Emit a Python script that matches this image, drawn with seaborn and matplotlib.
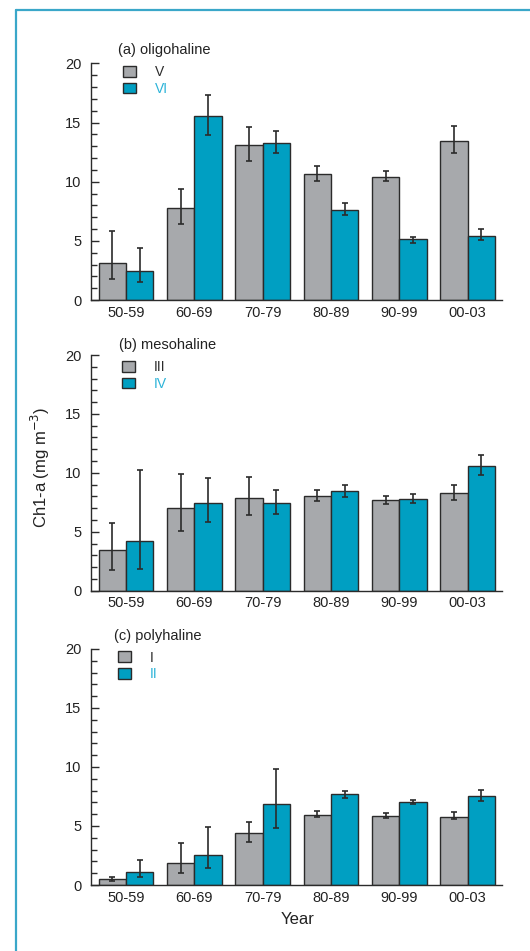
import matplotlib
matplotlib.use("Agg")
import matplotlib.pyplot as plt
from matplotlib.lines import Line2D
from matplotlib.patches import Patch
from matplotlib.ticker import MultipleLocator
import numpy as np
import pandas as pd
import seaborn as sns

years = ["50-59", "60-69", "70-79", "80-89", "90-99", "00-03"]

# (a) oligohaline
olig_names = ["V", "VI"]
olig_v = [3.15, 7.75, 13.13, 10.62, 10.42, 13.46]
olig_v_lo = [1.80, 6.45, 11.72, 10.03, 10.03, 12.39]
olig_v_hi = [5.80, 9.41, 14.59, 11.32, 10.93, 14.73]
olig_vi = [2.48, 15.55, 13.30, 7.63, 5.13, 5.44]
olig_vi_lo = [1.49, 13.97, 12.39, 7.15, 4.85, 5.07]
olig_vi_hi = [4.37, 17.35, 14.31, 8.17, 5.35, 5.97]

# (b) mesohaline
meso_names = ["III", "IV"]
meso_iii = [3.45, 7.04, 7.89, 8.03, 7.69, 8.32]
meso_iii_lo = [1.75, 5.04, 6.39, 7.58, 7.38, 7.69]
meso_iii_hi = [5.77, 9.93, 9.67, 8.57, 8.06, 8.94]
meso_iv = [4.24, 7.47, 7.47, 8.43, 7.81, 10.61]
meso_iv_lo = [1.87, 5.83, 6.51, 7.95, 7.47, 9.82]
meso_iv_hi = [10.27, 9.53, 8.57, 8.97, 8.23, 11.51]

# (c) polyhaline
poly_names = ["I", "II"]
poly_i = [0.51, 1.89, 4.38, 5.93, 5.85, 5.79]
poly_i_lo = [0.31, 0.99, 3.62, 5.76, 5.65, 5.56]
poly_i_hi = [0.71, 3.59, 5.37, 6.27, 6.07, 6.16]
poly_ii = [1.07, 2.57, 6.86, 7.68, 7.03, 7.51]
poly_ii_lo = [0.71, 1.41, 4.86, 7.34, 6.84, 7.09]
poly_ii_hi = [2.09, 4.89, 9.83, 7.99, 7.23, 8.05]

panels = [
    ("(a) oligohaline", olig_names, [olig_v, olig_vi], [olig_v_lo, olig_vi_lo], [olig_v_hi, olig_vi_hi]),
    ("(b) mesohaline", meso_names, [meso_iii, meso_iv], [meso_iii_lo, meso_iv_lo], [meso_iii_hi, meso_iv_hi]),
    ("(c) polyhaline", poly_names, [poly_i, poly_ii], [poly_i_lo, poly_ii_lo], [poly_i_hi, poly_ii_hi]),
]

GRAY = "#a7a9ac"
TEAL = "#009fc2"
DARK = "#2b2b2b"
LABEL_TEAL = "#2bb3d8"

sns.set_theme(style="white")
plt.rcParams["font.family"] = ["Liberation Sans", "DejaVu Sans"]

fig = plt.figure(figsize=(5.30, 9.51), dpi=100)

# axes boxes in figure fraction: left, bottom, width, height
boxes = [
    [0.1717, 0.6845, 0.7755, 0.2489],
    [0.1717, 0.3789, 0.7755, 0.2478],
    [0.1717, 0.0694, 0.7755, 0.2482],
]
# title (x, y) and legend anchor (x, y) in axes fraction, per panel
title_pos = [(0.066, 1.055), (0.068, 1.043), (0.056, 1.055)]
legend_pos = [(0.078, 0.992), (0.075, 0.978), (0.066, 0.993)]

for (title, names, vals, los, his), box, tp, lp in zip(panels, boxes, title_pos, legend_pos):
    ax = fig.add_axes(box)
    df = pd.DataFrame({
        "year": years * 2,
        "site": [names[0]] * len(years) + [names[1]] * len(years),
        "chl": list(vals[0]) + list(vals[1]),
    })
    sns.barplot(data=df, x="year", y="chl", hue="site", order=years,
                hue_order=names, palette=[GRAY, TEAL], saturation=1,
                errorbar=None, width=0.8, edgecolor=DARK, linewidth=1.0,
                ax=ax, legend=False)

    for cont, v, lo, hi in zip(ax.containers, vals, los, his):
        xs = [b.get_x() + b.get_width() / 2 for b in cont]
        v = np.array(v)
        yerr = np.vstack([v - np.array(lo), np.array(hi) - v])
        ax.errorbar(xs, v, yerr=yerr, fmt="none", ecolor=DARK,
                    elinewidth=1.2, capsize=2.5, capthick=1.2, zorder=5)

    ax.set_ylim(0, 20)
    ax.set_xlim(-0.51, 5.505)
    ax.yaxis.set_major_locator(MultipleLocator(5))
    ax.yaxis.set_minor_locator(MultipleLocator(1))
    ax.tick_params(axis="y", which="major", direction="in", length=6,
                   width=1, color=DARK, labelsize=10.5, pad=7, left=True,
                   labelcolor="#222222")
    ax.tick_params(axis="y", which="minor", direction="in", length=4,
                   width=1, color=DARK, left=True)
    ax.tick_params(axis="x", length=0, labelsize=10.5, pad=4, labelcolor="#222222")
    ax.set_xlabel("")
    ax.set_ylabel("")
    for s in ["top", "right"]:
        ax.spines[s].set_visible(False)
    for s in ["left", "bottom"]:
        ax.spines[s].set_color(DARK)
        ax.spines[s].set_linewidth(1.0)

    ax.text(tp[0], tp[1], title, transform=ax.transAxes, ha="left",
            va="center", fontsize=10.5, color="#222222")
    handles = [Patch(facecolor=GRAY, edgecolor=DARK, linewidth=1.0),
               Patch(facecolor=TEAL, edgecolor=DARK, linewidth=1.0)]
    ax.legend(handles, names, loc="upper left", bbox_to_anchor=lp,
              frameon=False, fontsize=10, handlelength=0.95,
              handleheight=0.8, handletextpad=1.35, labelspacing=0.2,
              borderpad=0, borderaxespad=0,
              labelcolor=[DARK, LABEL_TEAL])

fig.text(0.076, 0.509, "Ch1-a (mg m$^{-3}$)", rotation=90, ha="center",
         va="center", fontsize=12, color="#222222")
fig.text(0.561, 0.033, "Year", ha="center", va="center", fontsize=12,
         color="#222222")

# frame lines of the original figure box
frame = "#3aa7c9"
fig.add_artist(Line2D([16 / 530, 16 / 530], [0, 1 - 10 / 951],
                      transform=fig.transFigure, color=frame, linewidth=1.6))
fig.add_artist(Line2D([16 / 530, 1], [1 - 10 / 951, 1 - 10 / 951],
                      transform=fig.transFigure, color=frame, linewidth=1.6))

fig.savefig("out.png", dpi=100)
